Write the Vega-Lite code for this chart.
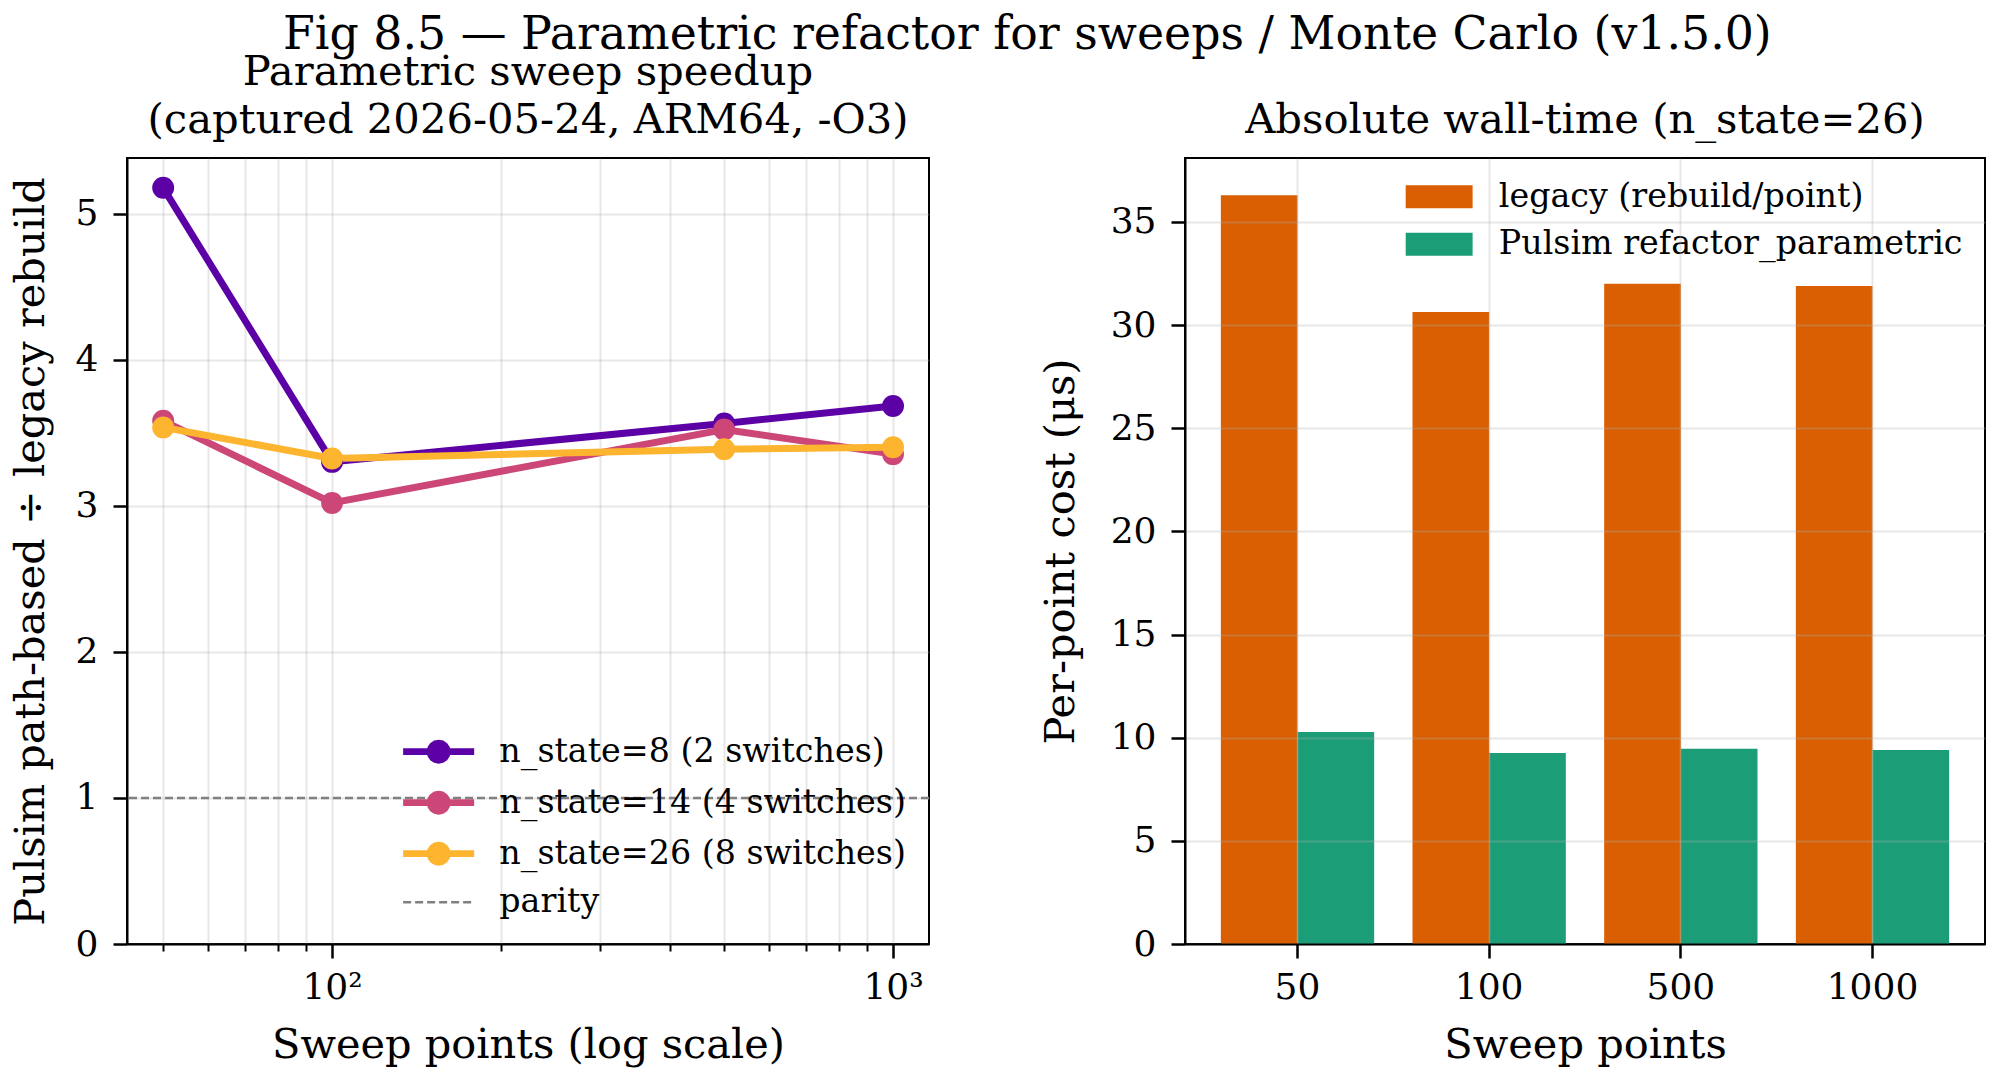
{
  "$schema": "https://vega.github.io/schema/vega-lite/v6.json",
  "background": "white",
  "padding": {"left": 9, "top": 11, "right": 5, "bottom": 5},
  "title": {"text": "Fig 8.5 — Parametric refactor for sweeps / Monte Carlo (v1.5.0)", "fontSize": 45.8, "font": "DejaVu Serif", "fontWeight": "normal", "anchor": "start", "frame": "group", "dx": 156, "color": "black", "offset": -7.5},
  "config": {
    "font": "DejaVu Serif",
    "view": {"stroke": "black", "strokeWidth": 2},
    "axis": {
      "labelFont": "DejaVu Serif", "titleFont": "DejaVu Serif", "labelFontSize": 36, "titleFontSize": 41.5,
      "titleFontWeight": "normal", "labelColor": "black", "titleColor": "black",
      "domainColor": "black", "domainWidth": 2, "tickColor": "black", "tickWidth": 2.5, "tickSize": 14,
      "gridColor": "#b0b0b0", "gridOpacity": 0.3, "gridWidth": 2, "labelFlush": false, "labelOverlap": false
    },
    "legend": {"labelLimit": 1000},
    "title": {"font": "DejaVu Serif", "fontWeight": "normal", "fontSize": 41.7, "color": "black", "anchor": "middle", "frame": "group"}
  },
  "resolve": {
    "scale": {"color": "independent", "fill": "independent", "stroke": "independent", "strokeDash": "independent"},
    "legend": {"color": "independent", "fill": "independent", "stroke": "independent", "strokeDash": "independent"}
  },
  "spacing": 107,
  "hconcat": [
    {
      "width": 802,
      "height": 786,
      "title": {"text": ["Parametric sweep speedup", "(captured 2026-05-24, ARM64, -O3)"], "lineHeight": 48, "baseline": "alphabetic", "offset": -16.5},
      "data": {"values": [
        {"n": 50, "series": "n_state=8 (2 switches)", "ratio": 5.176},
        {"n": 100, "series": "n_state=8 (2 switches)", "ratio": 3.30},
        {"n": 500, "series": "n_state=8 (2 switches)", "ratio": 3.563},
        {"n": 1000, "series": "n_state=8 (2 switches)", "ratio": 3.683},
        {"n": 50, "series": "n_state=14 (4 switches)", "ratio": 3.581},
        {"n": 100, "series": "n_state=14 (4 switches)", "ratio": 3.019},
        {"n": 500, "series": "n_state=14 (4 switches)", "ratio": 3.522},
        {"n": 1000, "series": "n_state=14 (4 switches)", "ratio": 3.353},
        {"n": 50, "series": "n_state=26 (8 switches)", "ratio": 3.536},
        {"n": 100, "series": "n_state=26 (8 switches)", "ratio": 3.323},
        {"n": 500, "series": "n_state=26 (8 switches)", "ratio": 3.387},
        {"n": 1000, "series": "n_state=26 (8 switches)", "ratio": 3.400}
      ]},
      "resolve": {"axis": {"x": "independent"}},
      "layer": [
        {
          "data": {"values": [{"level": 1, "label": "parity"}]},
          "mark": {"type": "rule", "strokeWidth": 2.5, "color": "#808080"},
          "encoding": {
            "y": {"field": "level", "type": "quantitative"},
            "strokeDash": {"field": "label", "type": "nominal",
              "scale": {"domain": ["parity"], "range": [[8, 4]]},
              "legend": {
                "orient": "none", "legendX": 295, "legendY": 727.5, "title": null, "padding": 0,
                "labelFontSize": 33.3, "labelFont": "DejaVu Serif", "labelColor": "black",
                "symbolSize": 576, "labelOffset": 44, "symbolStrokeWidth": 2.5, "symbolStrokeColor": "#808080",
                "symbolType": "M-2.96,0H2.96"
              }}
          }
        },
        {
          "mark": {"type": "line", "strokeWidth": 7},
          "encoding": {
            "x": {"field": "n", "type": "quantitative",
              "scale": {"type": "log", "domain": [43.1, 1159], "nice": false, "zero": false},
              "axis": {"values": [100, 1000], "labelExpr": "datum.value == 100 ? '10²' : '10³'", "title": "Sweep points (log scale)", "grid": true, "orient": "bottom", "labelPadding": 12, "titleBaseline": "alphabetic", "titleY": 113}},
            "y": {"field": "ratio", "type": "quantitative",
              "scale": {"domain": [0, 5.38], "nice": false, "zero": true},
              "axis": {"values": [0, 1, 2, 3, 4, 5], "format": "d", "title": "Pulsim path-based ÷ legacy rebuild", "grid": true, "labelPadding": 15, "titleBaseline": "alphabetic", "titleX": -84, "titleY": 393, "titleAngle": -90}},
            "stroke": {"field": "series", "type": "nominal",
              "scale": {"domain": ["n_state=26 (8 switches)", "n_state=14 (4 switches)", "n_state=8 (2 switches)"], "range": ["#fdb42f", "#cc4778", "#5c01a6"]},
              "legend": null}
          }
        },
        {
          "mark": {"type": "point", "filled": true, "size": 480, "opacity": 1},
          "encoding": {
            "x": {"field": "n", "type": "quantitative",
              "axis": {"values": [50, 60, 70, 80, 90, 200, 300, 400, 500, 600, 700, 800, 900], "labels": false, "tickSize": 7, "tickWidth": 2, "title": null, "grid": true, "orient": "bottom", "domain": false}},
            "y": {"field": "ratio", "type": "quantitative"},
            "fill": {"field": "series", "type": "nominal",
              "scale": {"domain": ["n_state=8 (2 switches)", "n_state=14 (4 switches)", "n_state=26 (8 switches)"], "range": ["#5c01a6", "#cc4778", "#fdb42f"]},
              "legend": {
                "orient": "none", "legendX": 295, "legendY": 577, "title": null, "padding": 0,
                "labelFontSize": 33.3, "labelFont": "DejaVu Serif", "labelColor": "black",
                "symbolSize": 576, "labelOffset": 44, "rowPadding": 17, "symbolStrokeWidth": 0, "symbolOpacity": 1,
                "symbolType": "M-2.96,-0.28H2.96V0.28H-2.96Z M1,0 L0.924,0.383 L0.707,0.707 L0.383,0.924 L0,1 L-0.383,0.924 L-0.707,0.707 L-0.924,0.383 L-1,0 L-0.924,-0.383 L-0.707,-0.707 L-0.383,-0.924 L0,-1 L0.383,-0.924 L0.707,-0.707 L0.924,-0.383 Z"
              }}
          }
        }
      ]
    },
    {
      "width": 800,
      "height": 786,
      "title": {"text": "Absolute wall-time (n_state=26)", "baseline": "alphabetic", "offset": -16.5},
      "data": {"values": [
        {"points": "50", "impl": "legacy (rebuild/point)", "cost": 36.3},
        {"points": "50", "impl": "Pulsim refactor_parametric", "cost": 10.28},
        {"points": "100", "impl": "legacy (rebuild/point)", "cost": 30.64},
        {"points": "100", "impl": "Pulsim refactor_parametric", "cost": 9.26},
        {"points": "500", "impl": "legacy (rebuild/point)", "cost": 32.0},
        {"points": "500", "impl": "Pulsim refactor_parametric", "cost": 9.47},
        {"points": "1000", "impl": "legacy (rebuild/point)", "cost": 31.9},
        {"points": "1000", "impl": "Pulsim refactor_parametric", "cost": 9.40}
      ]},
      "mark": {"type": "bar"},
      "encoding": {
        "x": {"field": "points", "type": "nominal", "sort": ["50", "100", "500", "1000"],
          "scale": {"paddingInner": 0.2, "paddingOuter": 0.187},
          "axis": {"title": "Sweep points", "labelAngle": 0, "grid": true, "bandPosition": 0.5, "zindex": 1, "labelPadding": 12, "titleBaseline": "alphabetic", "titleY": 113}},
        "xOffset": {"field": "impl", "type": "nominal", "sort": ["legacy (rebuild/point)", "Pulsim refactor_parametric"], "scale": {"paddingInner": 0, "paddingOuter": 0}},
        "y": {"field": "cost", "type": "quantitative",
          "scale": {"domain": [0, 38.1], "nice": false},
          "axis": {"values": [0, 5, 10, 15, 20, 25, 30, 35], "title": "Per-point cost (μs)", "grid": true, "zindex": 1, "labelPadding": 15, "titleBaseline": "alphabetic", "titleX": -112, "titleY": 393, "titleAngle": -90}},
        "color": {"field": "impl", "type": "nominal", "sort": ["legacy (rebuild/point)", "Pulsim refactor_parametric"],
          "scale": {"domain": ["legacy (rebuild/point)", "Pulsim refactor_parametric"], "range": ["#d95f02", "#1b9e77"]},
          "legend": {
            "orient": "none", "legendX": 237.5, "legendY": 22, "title": null, "padding": 0,
            "labelFontSize": 33.3, "labelFont": "DejaVu Serif", "labelColor": "black",
            "symbolSize": 529, "labelOffset": 43, "rowPadding": 13.5, "symbolStrokeWidth": 0, "symbolOpacity": 1,
            "symbolType": "M-2.91,-1H2.91V1H-2.91Z"
          }}
      }
    }
  ]
}
